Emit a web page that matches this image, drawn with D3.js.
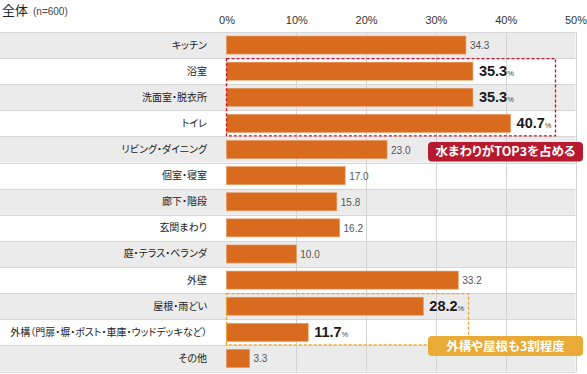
<!DOCTYPE html>
<html><head><meta charset="utf-8">
<script src="https://cdn.jsdelivr.net/npm/d3@7"></script>
<style>
body{margin:0;background:#fff;}
svg{display:block;font-family:"Liberation Sans","Noto Sans CJK JP",sans-serif;}
.jp{font-family:"Noto Sans CJK JP",sans-serif;font-feature-settings:"palt" 1;}
</style></head><body>
<svg id="c" width="587" height="374"></svg>
<script>
const categories = ["キッチン","浴室","洗面室・脱衣所","トイレ","リビング・ダイニング","個室・寝室","廊下・階段","玄関まわり","庭・テラス・ベランダ","外壁","屋根・雨どい","外構（門扉・塀・ポスト・車庫・ウッドデッキなど）","その他"];
const values = [34.3,35.3,35.3,40.7,23.0,17.0,15.8,16.2,10.0,33.2,28.2,11.7,3.3];
const highlighted = [false,true,true,true,false,false,false,false,false,false,true,true,false];
const ticks = [0,10,20,30,40,50];
const tickLabels = ["0%","10%","20%","30%","40%","50%"];
const groupA = {from:1,to:3,label:"水まわりがTOP3を占める"};
const groupB = {from:10,to:11,label:"外構や屋根も3割程度"};

const svg = d3.select("#c");
const x = d3.scaleLinear().domain([0,50]).range([226.5,575.5]);
const y = d3.scaleBand().domain(d3.range(categories.length)).range([32,371.5]).paddingInner(0).paddingOuter(0);
const bh = 18;

// title
const t = svg.append("text").attr("x",2).attr("y",15).attr("fill","#222");
t.append("tspan").attr("class","jp").attr("font-size",13).text("全体");
t.append("tspan").attr("font-size",10).attr("fill","#444").attr("dx",5).text("(n=600)");

// row backgrounds
svg.selectAll("rect.row").data(categories).join("rect")
  .attr("x",0).attr("y",(d,i)=>y(i)).attr("width",x(50)).attr("height",y.bandwidth())
  .attr("fill",(d,i)=>i%2===0?"#ebebeb":"#ffffff");
// row separators
svg.selectAll("line.sep").data(d3.range(categories.length+1)).join("line")
  .attr("x1",0).attr("x2",x(50))
  .attr("y1",i=>Math.round(32+i*y.step())+0.5).attr("y2",i=>Math.round(32+i*y.step())+0.5)
  .attr("stroke","#d6d6d6").attr("stroke-width",1);

// grid lines
svg.selectAll("line.grid").data(ticks.slice(1)).join("line")
  .attr("x1",d=>Math.round(x(d))+0.5).attr("x2",d=>Math.round(x(d))+0.5)
  .attr("y1",32).attr("y2",371.5).attr("stroke","#d3d3d3").attr("stroke-width",1);

// axis labels
const axis = d3.axisTop(x).tickValues(ticks).tickFormat((d,i)=>tickLabels[i]).tickSize(0).tickPadding(0);
const ag = svg.append("g").attr("transform","translate(0,24)").call(axis);
ag.select(".domain").remove();
ag.selectAll("text").attr("font-size",11).attr("fill","#333").attr("font-family","Liberation Sans, sans-serif");

// category labels
svg.selectAll("text.cat").data(categories).join("text")
  .attr("class","jp")
  .attr("x",207).attr("y",(d,i)=>y(i)+y.bandwidth()/2+3.5)
  .attr("text-anchor","end").attr("font-size",10).attr("fill","#222")
  .text(d=>d);

// bars
svg.selectAll("rect.bar").data(values).join("rect")
  .attr("x",x(0)).attr("y",(d,i)=>y(i)+(y.bandwidth()-bh)/2)
  .attr("width",d=>x(d)-x(0)).attr("height",bh)
  .attr("fill","#d96b1e").attr("stroke","#e8955a").attr("stroke-width",0.6);

// value labels
values.forEach((v,i)=>{
  const cy = y(i)+y.bandwidth()/2;
  if(highlighted[i]){
    const tx = svg.append("text").attr("x",x(v)+6).attr("y",cy+5).attr("fill","#1a1a1a");
    tx.append("tspan").attr("font-size",14.5).attr("font-weight","bold").text(v.toFixed(1));
    tx.append("tspan").attr("font-size",7.5).attr("fill","#444").text("%");
  } else {
    svg.append("text").attr("x",x(v)+4).attr("y",cy+4).attr("font-size",10).attr("fill","#555").text(v.toFixed(1));
  }
});

// dashed boxes
function dashBox(g, right, color){
  const y0 = y(g.from)+0.5, y1 = y(g.to)+y.bandwidth()-0.5;
  svg.append("rect").attr("x",x(0)).attr("y",y0).attr("width",right-x(0)).attr("height",y1-y0)
    .attr("fill","none").attr("stroke",color).attr("stroke-width",1.3).attr("stroke-dasharray","3,2");
}
dashBox(groupA, 555.5, "#c8102e");
dashBox(groupB, 468.5, "#f0a52a");

// label boxes
function labelBox(lbl, bx, by, w, h, fill){
  svg.append("rect").attr("x",bx).attr("y",by).attr("width",w).attr("height",h).attr("rx",4).attr("fill",fill);
  svg.append("text").attr("class","jp").attr("x",bx+w/2).attr("y",by+h/2+4.5).attr("text-anchor","middle")
    .attr("font-size",12.5).attr("font-weight","bold").attr("fill","#fff")
    .text(lbl);
}
labelBox(groupA.label, 428, 142, 155, 19.5, "#b71a2e");
labelBox(groupB.label, 428, 336, 155, 20, "#e9aa36");
</script></body></html>
